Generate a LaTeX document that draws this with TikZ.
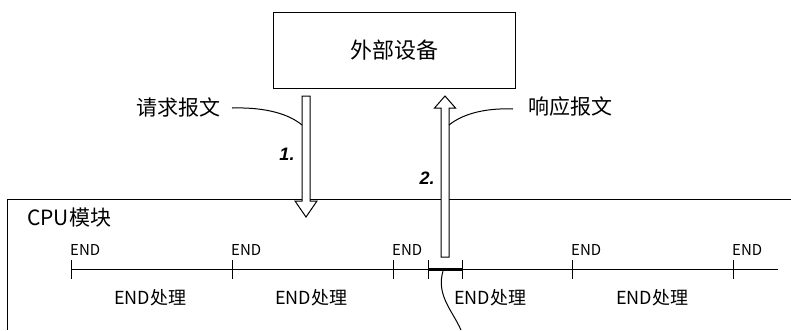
\documentclass[tikz,border=0pt]{standalone}
\usepackage{fontspec}
\setmainfont{Noto Sans CJK SC}
\newfontfamily\stepfont{Liberation Sans}
\usetikzlibrary{positioning}

\begin{document}
\begin{tikzpicture}[x=1pt,y=-1pt,>=stealth]
\tikzstyle{txt}=[inner sep=0pt,font=\fontsize{21pt}{21pt}\selectfont]
\tikzstyle{endtxt}=[inner sep=0pt,anchor=base west,font=\fontsize{15pt}{15pt}\selectfont]
\tikzstyle{proctxt}=[inner sep=0pt,font=\fontsize{18pt}{18pt}\selectfont]
\tikzstyle{steptxt}=[inner sep=0pt,font=\stepfont\bfseries\itshape\fontsize{18pt}{18pt}\selectfont]
\tikzstyle{hollow}=[draw,fill=white,line width=1pt]
\tikzstyle{leader}=[draw,line width=1pt]
	\useasboundingbox (0,0) rectangle (791,330);

	% external device
	\node[draw,line width=1pt,minimum width=242pt,minimum height=76pt,font=\fontsize{22pt}{22pt}\selectfont] (dev) at (394,50) {外部设备};

	% CPU frame
	\draw[line width=1pt] (791,199) -- (7,199) -- (7,330);
	\node[txt,anchor=west] (cpu) at (27,218) {CPU模块};

	% scan time line
	\draw[line width=1pt] (71,269) -- (778,269);
	\draw[line width=3pt] (428,269) -- (462,269);
	\foreach \x/\n in {71/a,232/b,393/c,572/d,733/e} {
		\coordinate (t\n) at (\x,269);
		\draw[line width=1pt] (\x,260) -- (\x,279);
		\node[endtxt] at (\x-1,255) {END};
	}
	\draw[line width=1pt] (428,260) -- (428,279);
	\draw[line width=1pt] (462,260) -- (462,279);
	\node[proctxt] (p1) at (150,298) {END处理};
	\node[proctxt] (p2) at (311,298) {END处理};
	\node[proctxt] (p3) at (490,298) {END处理};
	\node[proctxt] (p4) at (652,298) {END处理};

	% request / response arrows
	\coordinate (req) at (306,96);
	\coordinate (res) at (445,257);
	\draw[hollow] (req) ++(-4,0) -- ++(8,0) -- ++(0,105) -- ++(7,0) -- ++(-11,16)
		-- ++(-11,-16) -- ++(7,0) -- cycle;
	\draw[hollow] (res) ++(-4,0) -- ++(8,0) -- ++(0,-149) -- ++(6.5,0) -- ++(-10.5,-12)
		-- ++(-10.5,12) -- ++(6.5,0) -- cycle;

	\node[txt,anchor=east] (reqtxt) at (221,107) {请求报文};
	\node[txt,anchor=west] (restxt) at (528,107) {响应报文};
	\node[steptxt] (s1) at (287,154) {1.};
	\node[steptxt] (s2) at (427,178) {2.};

	\coordinate (reqend) at (302,125);
	\coordinate (resend) at (449,125);
	\coordinate (endend) at (461,330);
	\path[leader] (reqtxt.east) ++(11,1) .. controls (268,107) and (290,115) .. (reqend);
	\path[leader] (restxt.west) ++(-15,2) .. controls (490,108) and (465,112) .. (resend);
	\path[leader] (443,271) .. controls (436,295) and (452,310) .. (endend);
\end{tikzpicture}
\end{document}
